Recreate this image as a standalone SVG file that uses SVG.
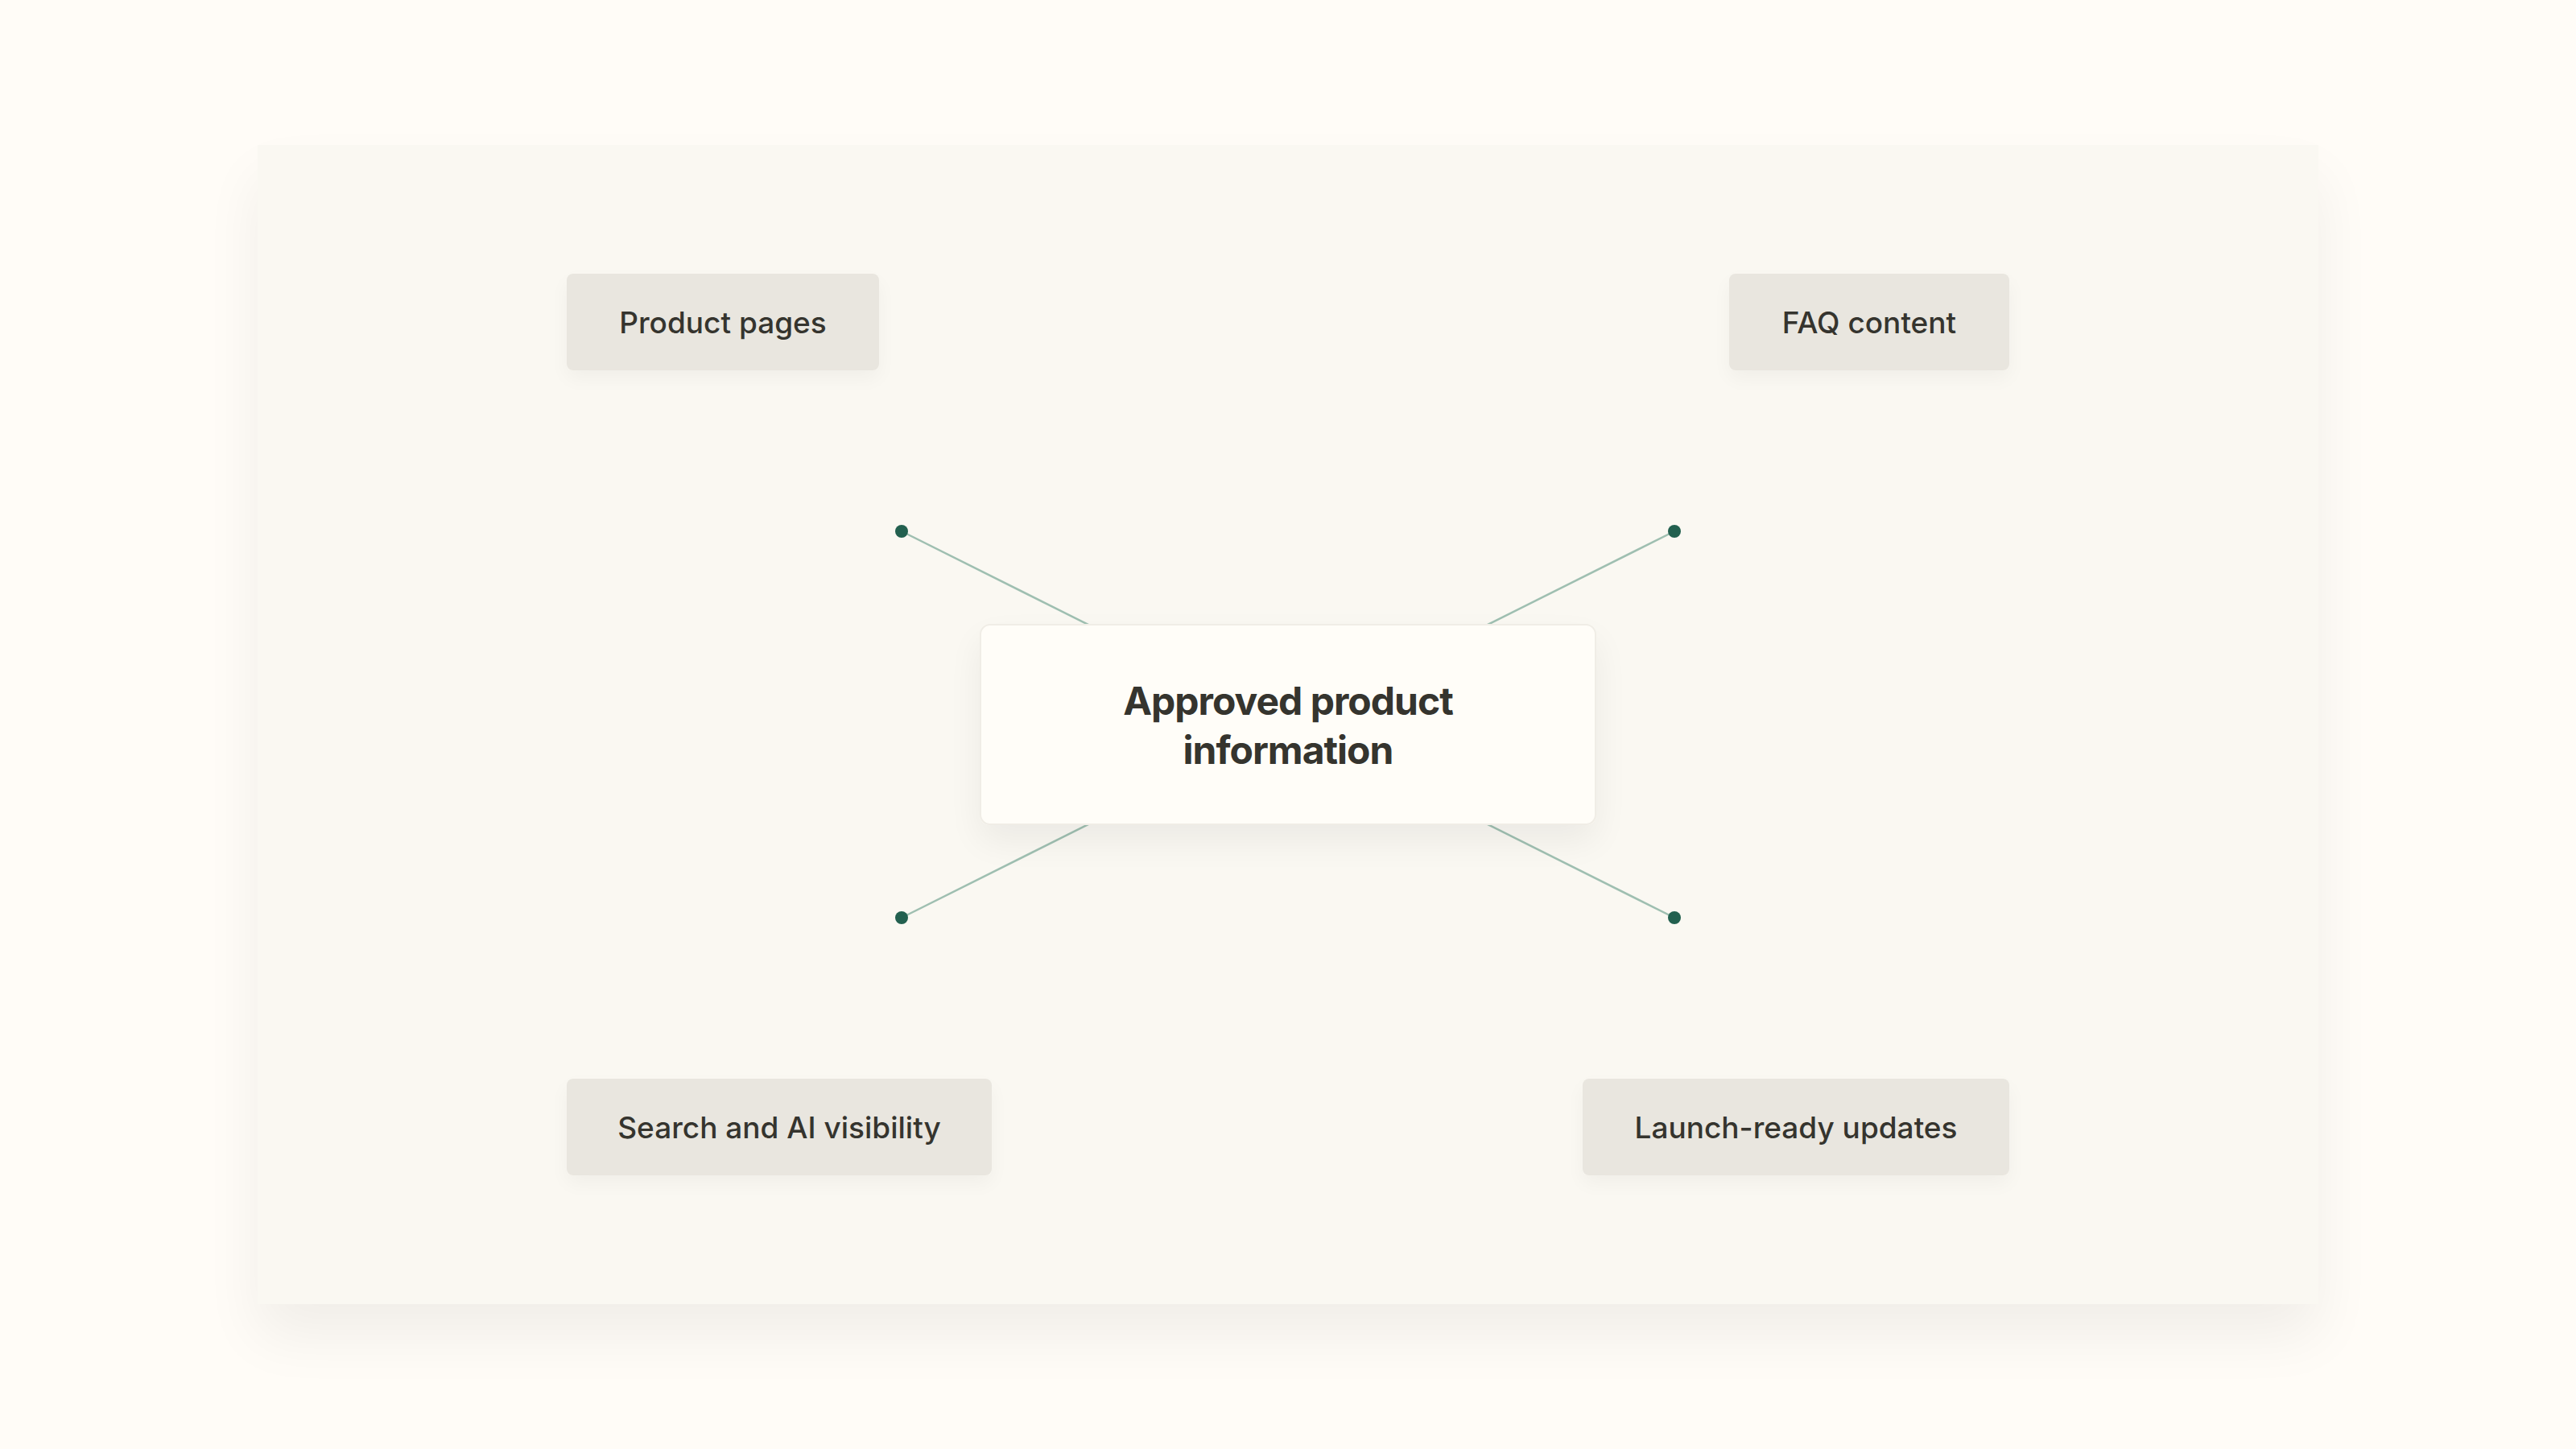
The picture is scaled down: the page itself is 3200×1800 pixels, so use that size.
<svg xmlns="http://www.w3.org/2000/svg" width="3200" height="1800" viewBox="0 0 3200 1800">
  <defs>
    <filter id="panelShadow" x="-10%" y="-10%" width="120%" height="125%">
      <feGaussianBlur in="SourceAlpha" stdDeviation="36"/>
      <feOffset dy="40" result="b"/>
      <feComponentTransfer><feFuncA type="linear" slope="0.06"/></feComponentTransfer>
      <feMerge><feMergeNode/><feMergeNode in="SourceGraphic"/></feMerge>
    </filter>
    <filter id="boxShadow" x="-20%" y="-30%" width="140%" height="180%">
      <feGaussianBlur in="SourceAlpha" stdDeviation="12"/>
      <feOffset dy="10" result="b"/>
      <feComponentTransfer><feFuncA type="linear" slope="0.04"/></feComponentTransfer>
      <feMerge><feMergeNode/><feMergeNode in="SourceGraphic"/></feMerge>
    </filter>
    <filter id="centerShadow" x="-20%" y="-30%" width="140%" height="180%">
      <feGaussianBlur in="SourceAlpha" stdDeviation="22"/>
      <feOffset dy="20" result="b"/>
      <feComponentTransfer><feFuncA type="linear" slope="0.06"/></feComponentTransfer>
      <feMerge><feMergeNode/><feMergeNode in="SourceGraphic"/></feMerge>
    </filter>
  </defs>
  <style>
    .chip { fill: #e9e6df; }
    .chip-text { font-family: Inter, "Liberation Sans", sans-serif; font-size: 37px; font-weight: 500; fill: #35342e; text-anchor: middle; }
    .center-box { fill: #fffdf8; stroke: #f0ede6; stroke-width: 2; }
    .center-text { font-family: Inter, "Liberation Sans", sans-serif; font-size: 48px; font-weight: 700; fill: #35342e; text-anchor: middle; letter-spacing: -1px; }
    .link { stroke: #9fbfb1; stroke-width: 2.5; fill: none; }
    .dot { fill: #22604f; }
  </style>
  <rect width="3200" height="1800" fill="#fffcf7"/>
  <rect id="panel" x="320" y="180" width="2560" height="1440" fill="#faf8f2" filter="url(#panelShadow)"/>

  <g id="connectors">
    <line class="link" x1="1120" y1="660" x2="1600" y2="900"/>
    <line class="link" x1="2080" y1="660" x2="1600" y2="900"/>
    <line class="link" x1="1120" y1="1140" x2="1600" y2="900"/>
    <line class="link" x1="2080" y1="1140" x2="1600" y2="900"/>
    <circle class="dot" cx="1120" cy="660" r="8"/>
    <circle class="dot" cx="2080" cy="660" r="8"/>
    <circle class="dot" cx="1120" cy="1140" r="8"/>
    <circle class="dot" cx="2080" cy="1140" r="8"/>
  </g>

  <g id="node-center">
    <rect class="center-box" x="1218" y="776" width="764" height="248" rx="12" filter="url(#centerShadow)"/>
    <text class="center-text" x="1600" y="888">Approved product</text>
    <text class="center-text" x="1600" y="949">information</text>
  </g>

  <g id="node-product-pages">
    <rect class="chip" x="704" y="340" width="388" height="120" rx="8" filter="url(#boxShadow)"/>
    <text class="chip-text" x="898" y="414">Product pages</text>
  </g>

  <g id="node-faq">
    <rect class="chip" x="2148" y="340" width="348" height="120" rx="8" filter="url(#boxShadow)"/>
    <text class="chip-text" x="2322" y="414">FAQ content</text>
  </g>

  <g id="node-search">
    <rect class="chip" x="704" y="1340" width="528" height="120" rx="8" filter="url(#boxShadow)"/>
    <text class="chip-text" x="968" y="1414">Search and AI visibility</text>
  </g>

  <g id="node-launch">
    <rect class="chip" x="1966" y="1340" width="530" height="120" rx="8" filter="url(#boxShadow)"/>
    <text class="chip-text" x="2231" y="1414">Launch-ready updates</text>
  </g>
</svg>
